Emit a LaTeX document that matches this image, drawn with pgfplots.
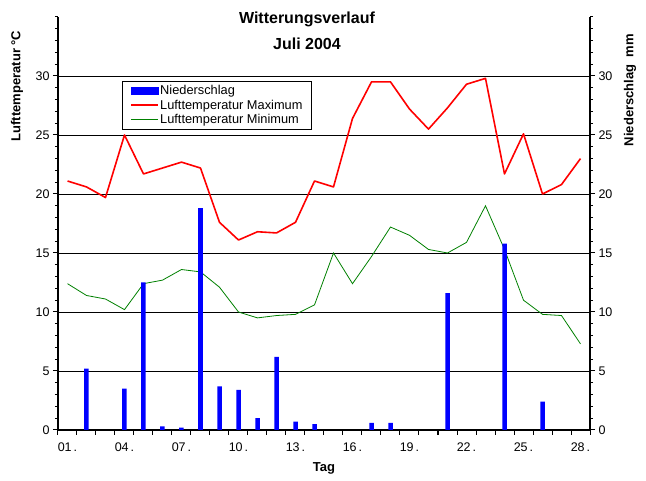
\documentclass[border=0pt]{standalone}
\usepackage{pgfplots}
\pgfplotsset{compat=1.18}
\usepackage{fontspec}
\setmainfont{Liberation Sans}
\definecolor{dgreen}{RGB}{0,128,0}
\begin{document}
\begin{tikzpicture}
\path[use as bounding box] (-58pt,-51pt) rectangle (588pt,430pt);
\begin{axis}[
  at={(0pt,0pt)}, anchor=south west,
  scale only axis, width=532pt, height=413pt,
  xmin=0.5, xmax=28.5, ymin=0, ymax=35,
  axis y line*=left, axis x line*=bottom,
  axis line style={line width=1.6pt, -},
  tick align=outside,
  major tick length=5pt, minor tick length=3pt,
  tick style={black, line width=1pt},
  xtick={0.5,1.5,...,28.5},
  xticklabel=\empty,
  extra x ticks={1,4,...,28},
  extra x tick labels={01\,.,04\,.,07\,.,10\,.,13\,.,16\,.,19\,.,22\,.,25\,.,28\,.},
  extra x tick style={tick style={draw=none}, grid=none, xticklabel style={yshift=-4pt}},
  ytick={0,5,...,30},
  minor ytick={0,1,...,35},
  ymajorgrids,
  major grid style={black, line width=0.8pt},
  tick label style={font=\fontsize{12.5}{12.5}\selectfont},
  /pgf/number format/assume math mode=true,
  ylabel={Lufttemperatur °C},
  ylabel style={at={(rel axis cs:-0.0771,0.833)}, anchor=center, font=\bfseries\fontsize{13}{13}\selectfont},
  xlabel={Tag},
  xlabel style={at={(rel axis cs:0.5,-0.092)}, anchor=center, font=\bfseries\fontsize{13}{13}\selectfont},
  legend style={at={(rel axis cs:0.1203,0.845)}, anchor=north west, draw=black, line width=0.8pt, fill=white,
    font=\fontsize{12.8}{12.8}\selectfont, row sep=1.5pt, inner xsep=8pt, inner ysep=2.5pt, nodes={inner sep=1.2pt}},
  legend cell align=left,
  legend image code/.code={\draw[#1] (0pt,0pt) -- (27pt,0pt);},
  clip=false,
]
\addlegendimage{legend image code/.code={\fill[blue] (0pt,-3.5pt) rectangle (27pt,3.5pt);}}
\addlegendentry{Niederschlag}
\addplot[red, line width=1.6pt, line join=round] coordinates {
(1,21.1) (2,20.6) (3,19.7) (4,25.0) (5,21.7) (6,22.2) (7,22.7) (8,22.2) (9,17.6) (10,16.1)
(11,16.8) (12,16.7) (13,17.6) (14,21.1) (15,20.6) (16,26.4) (17,29.5) (18,29.5) (19,27.2) (20,25.5)
(21,27.3) (22,29.3) (23,29.8) (24,21.7) (25,25.1) (26,20.0) (27,20.8) (28,23.0)};
\addlegendentry{Lufttemperatur Maximum}
\addplot[dgreen, line width=0.8pt] coordinates {
(1,12.4) (2,11.4) (3,11.1) (4,10.2) (5,12.4) (6,12.7) (7,13.6) (8,13.4) (9,12.1) (10,10.0)
(11,9.5) (12,9.7) (13,9.8) (14,10.6) (15,15.0) (16,12.4) (17,14.7) (18,17.2) (19,16.5) (20,15.3)
(21,15.0) (22,15.9) (23,19.0) (24,15.3) (25,11.0) (26,9.8) (27,9.7) (28,7.3)};
\addlegendentry{Lufttemperatur Minimum}
\node[font=\bfseries\fontsize{16}{16}\selectfont] at (rel axis cs:0.468,0.993) {Witterungsverlauf};
\node[font=\bfseries\fontsize{16}{16}\selectfont] at (rel axis cs:0.468,0.935) {Juli 2004};
\end{axis}
\begin{axis}[
  at={(0pt,0pt)}, anchor=south west,
  scale only axis, width=532pt, height=413pt,
  xmin=0.5, xmax=28.5, ymin=0, ymax=35,
  axis y line*=right, axis x line=none,
  axis line style={line width=1.6pt, -},
  tick align=outside,
  major tick length=5pt, minor tick length=3pt,
  tick style={black, line width=1pt},
  ytick={0,5,...,30},
  minor ytick={0,1,...,35},
  tick label style={font=\fontsize{12.5}{12.5}\selectfont},
  /pgf/number format/assume math mode=true,
  ylabel={Niederschlag\ \ mm},
  ylabel style={at={(rel axis cs:1.0752,0.823)}, anchor=center, font=\bfseries\fontsize{13}{13}\selectfont},
]
\addplot[ybar, bar width=4.5pt, fill=blue, draw=none] coordinates {
(2,5.2) (4,3.5) (5,12.5) (6,0.3) (7,0.2) (8,18.8) (9,3.7) (10,3.4) (11,1.0) (12,6.2)
(13,0.7) (14,0.5) (17,0.6) (18,0.6) (21,11.6) (24,15.8) (26,2.4)};
\end{axis}
\end{tikzpicture}
\end{document}
